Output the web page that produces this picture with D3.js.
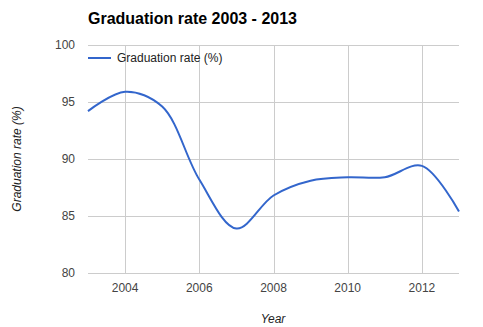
<!DOCTYPE html>
<meta charset="utf-8">
<style>
  body { margin: 0; background: #fff; }
  text { font-family: "Liberation Sans", Arial, sans-serif; }
</style>
<script src="https://d3js.org/d3.v7.min.js"></script>
<div id="my_dataviz"></div>
<script>
// data
var years = [2003, 2004, 2005, 2006, 2007, 2008, 2009, 2010, 2011, 2012, 2013];
var rates = [94.2, 95.9, 94.6, 88.2, 83.9, 86.8, 88.1, 88.4, 88.4, 89.4, 85.4];
var xTicks = [2004, 2006, 2008, 2010, 2012];
var yTicks = [80, 85, 90, 95, 100];
var seriesName = "Graduation rate (%)";

var W = 483, H = 327;
var margin = {top: 45, right: 24, bottom: 54, left: 88};
var width = 459 - margin.left, height = 273 - margin.top;

var svg = d3.select("#my_dataviz").append("svg")
    .attr("width", W).attr("height", H);
var g = svg.append("g")
    .attr("transform", "translate(" + margin.left + "," + margin.top + ")");

var x = d3.scaleLinear().domain([2003, 2013]).range([0, width]);
var y = d3.scaleLinear().domain([80, 100]).range([height, 0]);

// grid
g.selectAll(".hg").data(yTicks).enter().append("line")
    .attr("x1", 0).attr("x2", width)
    .attr("y1", function(d) { return Math.round(y(d)) + 0.5; })
    .attr("y2", function(d) { return Math.round(y(d)) + 0.5; })
    .attr("stroke", "#cccccc");
g.selectAll(".vg").data(xTicks).enter().append("line")
    .attr("y1", 0).attr("y2", height)
    .attr("x1", function(d) { return Math.round(x(d)) + 0.5; })
    .attr("x2", function(d) { return Math.round(x(d)) + 0.5; })
    .attr("stroke", "#cccccc");

// tick labels
g.selectAll(".yl").data(yTicks).enter().append("text")
    .attr("x", -13).attr("y", function(d) { return y(d) + 4; })
    .attr("text-anchor", "end").attr("font-size", 12).attr("fill", "#444")
    .text(function(d) { return d; });
g.selectAll(".xl").data(xTicks).enter().append("text")
    .attr("x", function(d) { return x(d); }).attr("y", height + 19)
    .attr("text-anchor", "middle").attr("font-size", 12).attr("fill", "#444")
    .text(function(d) { return d; });

// line
var line = d3.line()
    .x(function(d, i) { return x(years[i]); })
    .y(function(d) { return y(d); })
    .curve(d3.curveCatmullRom.alpha(0.5));
g.append("path").datum(rates)
    .attr("d", line)
    .attr("fill", "none").attr("stroke", "#3366cc").attr("stroke-width", 2);

// title
svg.append("text").attr("x", 88).attr("y", 24)
    .attr("font-size", 16).attr("font-weight", "bold").attr("fill", "#000")
    .text("Graduation rate 2003 - 2013");

// legend
svg.append("line").attr("x1", 88).attr("x2", 111).attr("y1", 58).attr("y2", 58)
    .attr("stroke", "#3366cc").attr("stroke-width", 2);
svg.append("text").attr("x", 117).attr("y", 62)
    .attr("font-size", 12).attr("fill", "#222").text(seriesName);

// axis titles
svg.append("text").attr("x", 273).attr("y", 323)
    .attr("text-anchor", "middle").attr("font-size", 12).attr("font-style", "italic")
    .attr("fill", "#222").text("Year");
svg.append("text")
    .attr("transform", "translate(21," + (margin.top + height / 2) + ") rotate(-90)")
    .attr("text-anchor", "middle").attr("font-size", 12).attr("font-style", "italic")
    .attr("fill", "#222").text("Graduation rate (%)");
</script>
